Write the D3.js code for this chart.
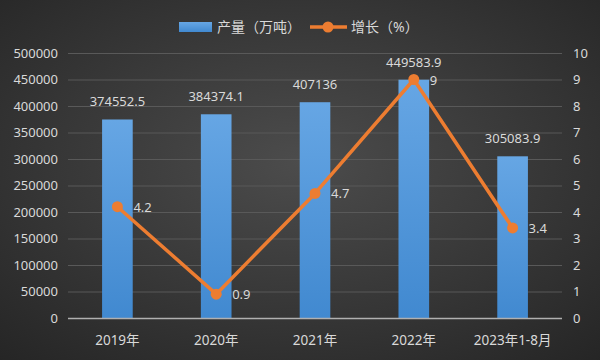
<!DOCTYPE html>
<html lang='zh'>
<head>
   <meta charset='UTF-8'>
   <title>产量与增长</title>
   <script src='https://d3js.org/d3.v7.min.js'></script>
   <style>
      body { margin: 0; background: #333; }
      svg { display: block; }
      text { font-family: 'Noto Sans', 'Noto Sans CJK SC', sans-serif; fill: #d9d9d9; font-size: 13px; }
   </style>
</head>
<body>
   <div id='chart'></div>
   <script>
      const years = ['2019年', '2020年', '2021年', '2022年', '2023年1-8月'];
      const output = [374552.5, 384374.1, 407136, 449583.9, 305083.9];
      const growth = [4.2, 0.9, 4.7, 9, 3.4];
      const leftTicks = [0, 50000, 100000, 150000, 200000, 250000, 300000, 350000, 400000, 450000, 500000];
      const rightTicks = [0, 1, 2, 3, 4, 5, 6, 7, 8, 9, 10];

      const W = 600, H = 360;
      const plot = { left: 68, right: 562, top: 53, bottom: 318 };

      const svg = d3.select('#chart').append('svg').attr('width', W).attr('height', H);

      const defs = svg.append('defs');
      const bg = defs.append('radialGradient').attr('id', 'bg')
         .attr('cx', '50%').attr('cy', '45%').attr('r', '75%');
      bg.append('stop').attr('offset', '0%').attr('stop-color', '#4c4c4c');
      bg.append('stop').attr('offset', '100%').attr('stop-color', '#252525');

      const barGrad = defs.append('linearGradient').attr('id', 'barGrad')
         .attr('x1', 0).attr('x2', 0).attr('y1', 0).attr('y2', 1);
      barGrad.append('stop').attr('offset', '0%').attr('stop-color', '#66a6e4');
      barGrad.append('stop').attr('offset', '100%').attr('stop-color', '#4189d0');

      svg.append('rect').attr('width', W).attr('height', H).attr('fill', 'url(#bg)');

      const x = d3.scaleBand().domain(years).range([plot.left, plot.right]).paddingInner(0.69).paddingOuter(0.345);
      const yL = d3.scaleLinear().domain([0, 500000]).range([plot.bottom, plot.top]);
      const yR = d3.scaleLinear().domain([0, 10]).range([plot.bottom, plot.top]);
      const cx = d => x(d) + x.bandwidth() / 2;

      // grid
      svg.append('g').selectAll('line').data(leftTicks.slice(1)).join('line')
         .attr('x1', plot.left).attr('x2', plot.right)
         .attr('y1', d => yL(d) + 0.5).attr('y2', d => yL(d) + 0.5)
         .attr('stroke', '#595959').attr('stroke-width', 1);

      // left axis
      const left = svg.append('g').attr('transform', `translate(${plot.left - 10},0)`)
         .call(d3.axisLeft(yL).tickValues(leftTicks).tickSize(0).tickPadding(0).tickFormat(d3.format('d')));
      left.select('.domain').remove();
      left.selectAll('text').attr('fill', '#d9d9d9').style('font-size', '13px');

      // right axis
      const right = svg.append('g').attr('transform', `translate(${plot.right + 11},0)`)
         .call(d3.axisRight(yR).tickValues(rightTicks).tickSize(0).tickPadding(0));
      right.select('.domain').remove();
      right.selectAll('text').attr('fill', '#d9d9d9').style('font-size', '13px');

      // bars
      svg.append('g').selectAll('rect').data(output).join('rect')
         .attr('x', (d, i) => x(years[i]))
         .attr('y', d => yL(d))
         .attr('width', x.bandwidth())
         .attr('height', d => plot.bottom - yL(d))
         .attr('fill', 'url(#barGrad)');

      svg.append('g').selectAll('text').data(output).join('text')
         .attr('x', (d, i) => cx(years[i]))
         .attr('y', d => yL(d) - 13)
         .attr('text-anchor', 'middle')
         .text(d => d);

      // baseline
      svg.append('line').attr('x1', plot.left).attr('x2', plot.right)
         .attr('y1', plot.bottom + 0.5).attr('y2', plot.bottom + 0.5)
         .attr('stroke', '#b0b0b0').attr('stroke-width', 1.5);

      // x axis labels
      svg.append('g').selectAll('text').data(years).join('text')
         .attr('x', d => cx(d)).attr('y', 345)
         .attr('text-anchor', 'middle')
         .style('font-size', '13.5px')
         .text(d => d);

      // growth line
      const line = d3.line().x((d, i) => cx(years[i])).y(d => yR(d));
      svg.append('path').datum(growth)
         .attr('d', line).attr('fill', 'none')
         .attr('stroke', '#ed7d31').attr('stroke-width', 3.5).attr('stroke-linejoin', 'round');

      svg.append('g').selectAll('circle').data(growth).join('circle')
         .attr('cx', (d, i) => cx(years[i])).attr('cy', d => yR(d))
         .attr('r', 5.5).attr('fill', '#ed7d31');

      svg.append('g').selectAll('text').data(growth).join('text')
         .attr('x', (d, i) => cx(years[i]) + 16)
         .attr('y', d => yR(d) + 5)
         .text(d => d);

      // legend
      const lg = svg.append('g').style('font-size', '14px');
      lg.append('rect').attr('x', 179).attr('y', 22).attr('width', 33).attr('height', 10).attr('fill', 'url(#barGrad)');
      lg.append('text').attr('x', 217).attr('y', 32).style('font-size', '14px').text('产量（万吨）');
      lg.append('line').attr('x1', 310).attr('x2', 347).attr('y1', 27).attr('y2', 27)
         .attr('stroke', '#ed7d31').attr('stroke-width', 3.5);
      lg.append('circle').attr('cx', 328).attr('cy', 27).attr('r', 5.5).attr('fill', '#ed7d31');
      lg.append('text').attr('x', 351).attr('y', 32).style('font-size', '14px').text('增长（%）');
   </script>
</body>
</html>
